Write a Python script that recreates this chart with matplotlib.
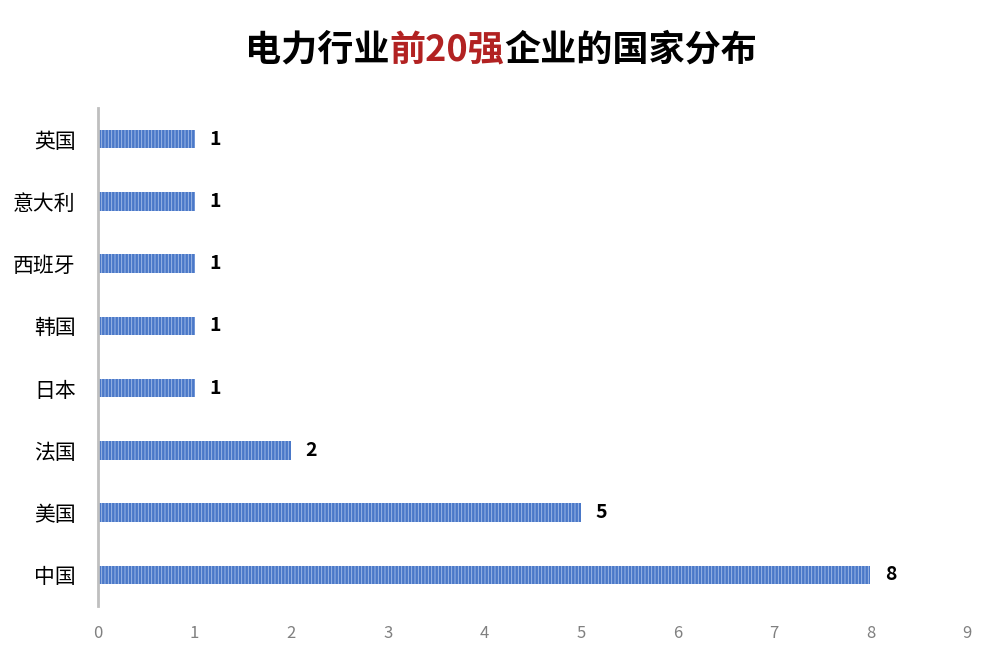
import matplotlib
matplotlib.use("Agg")
import matplotlib.pyplot as plt

plt.rcParams['font.family'] = ['Noto Sans CJK SC', 'DejaVu Sans']
plt.rcParams['hatch.linewidth'] = 0.6

# data (bottom to top)
countries = ['中国', '美国', '法国', '日本', '韩国', '西班牙', '意大利', '英国']
counts = [8, 5, 2, 1, 1, 1, 1, 1]
xticks = list(range(10))

fig = plt.figure(figsize=(10.02, 6.58), dpi=100)
ax = fig.add_axes([98 / 1002, 1 - 606 / 658, (967 - 98) / 1002, (606 - 108) / 658])

ypos = range(len(countries))
ax.barh(ypos, counts, height=0.3, color='#4a78c8', edgecolor='#a8c0ea',
        hatch='|||||', linewidth=0)
for y, v in zip(ypos, counts):
    ax.text(v + 0.15, y, str(v), va='center', ha='left', fontsize=14,
            fontweight='bold', color='black')

ax.set_xlim(0, 9)
ax.set_ylim(-0.5, len(countries) - 0.5)
ax.set_xticks(xticks)
ax.set_xticklabels([str(t) for t in xticks], color='#808080', fontsize=12)
ax.set_yticks(list(ypos))
ax.set_yticklabels(countries, fontsize=15, color='black')
ax.tick_params(axis='both', length=0)
ax.tick_params(axis='x', pad=14)
ax.tick_params(axis='y', pad=16)
for s in ['top', 'right', 'bottom']:
    ax.spines[s].set_visible(False)
ax.spines['left'].set_color('#bfbfbf')
ax.spines['left'].set_linewidth(2)

# title with red middle part, centred as a whole
parts = [('电力行业', 'black'), ('前20强', '#b22222'), ('企业的国家分布', 'black')]
renderer = fig.canvas.get_renderer()
objs = []
for txt, col in parts:
    t = fig.text(0, 1 - 50 / 658, txt, ha='left', va='center', fontsize=26,
                 fontweight='bold', color=col)
    objs.append(t)
widths = [o.get_window_extent(renderer).width for o in objs]
x = (fig.bbox.width - sum(widths)) / 2
for o, w in zip(objs, widths):
    o.set_x(x / fig.bbox.width)
    x += w

fig.savefig('out.png', dpi=100)
